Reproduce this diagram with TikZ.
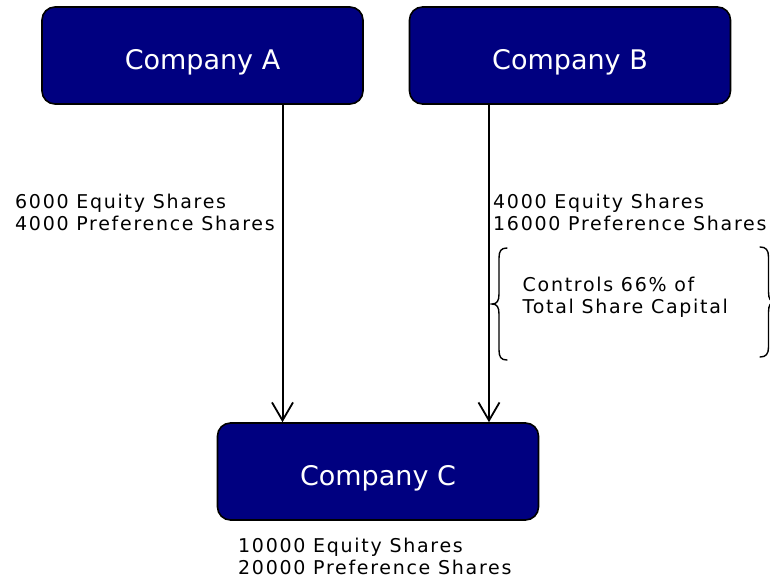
\documentclass[tikz,border=0pt]{standalone}
\usepackage{fontspec}
\setmainfont{DejaVu Sans}
\newfontfamily\lblfont[LetterSpace=9]{DejaVu Sans}
\usetikzlibrary{arrows.meta}
\definecolor{navybox}{RGB}{0,0,128}
\tikzset{
  box/.style={draw=black, line width=1.6pt, fill=navybox, rounded corners=13pt,
    minimum width=321pt, minimum height=97pt, text=white, inner sep=0pt,
    font=\fontsize{27}{32}\selectfont, text height=28.6pt, text depth=0pt},
  lbl/.style={inner sep=0pt, align=left, font=\lblfont\fontsize{19}{22}\selectfont},
  arr/.style={line width=2pt, -{Straight Barb[length=18pt,width=21pt,line width=1.8pt]}},
  brace/.style={line width=1.4pt, line cap=round}
}
\begin{document}
\begin{tikzpicture}[x=1pt,y=-1pt]
\useasboundingbox (0,0) rectangle (770,581);
\node[box] (A) at (202.5,55.5) {Company A};
\node[box] (B) at (570,55.5) {Company B};
\node[box] (C) at (378,471.5) {Company C};
\draw[arr] ([xshift=80pt]A.south) -- ([xshift=80pt]A.south |- C.north);
\draw[arr] ([xshift=-81pt]B.south) -- ([xshift=-81pt]B.south |- C.north);
\node[lbl, anchor=base west] (la) at (15,230) {6000 Equity Shares\\4000 Preference Shares};
\node[lbl, anchor=base west] (lb) at (493,230) {4000 Equity Shares\\16000 Preference Shares};
\node[lbl, anchor=base west] (lc) at (238,574) {10000 Equity Shares\\20000 Preference Shares};
\node[lbl, anchor=base west] (ctl) at (522.5,313) {Controls 66\% of\\Total Share Capital};
\draw[brace] (507,248) .. controls (501,248) and (499,251) .. (499,258) -- (499,294)
  .. controls (499,301) and (497,304) .. (492,304)
  .. controls (497,304) and (499,307) .. (499,314) -- (499,350)
  .. controls (499,357) and (501,360) .. (507,360);
\draw[brace] (760,247) .. controls (766,247) and (768.5,250) .. (768.5,257) -- (768.5,292)
  .. controls (768.5,299) and (770.5,302) .. (775.5,302)
  .. controls (770.5,302) and (768.5,305) .. (768.5,312) -- (768.5,347)
  .. controls (768.5,354) and (766,357) .. (760,357);
\end{tikzpicture}
\end{document}
